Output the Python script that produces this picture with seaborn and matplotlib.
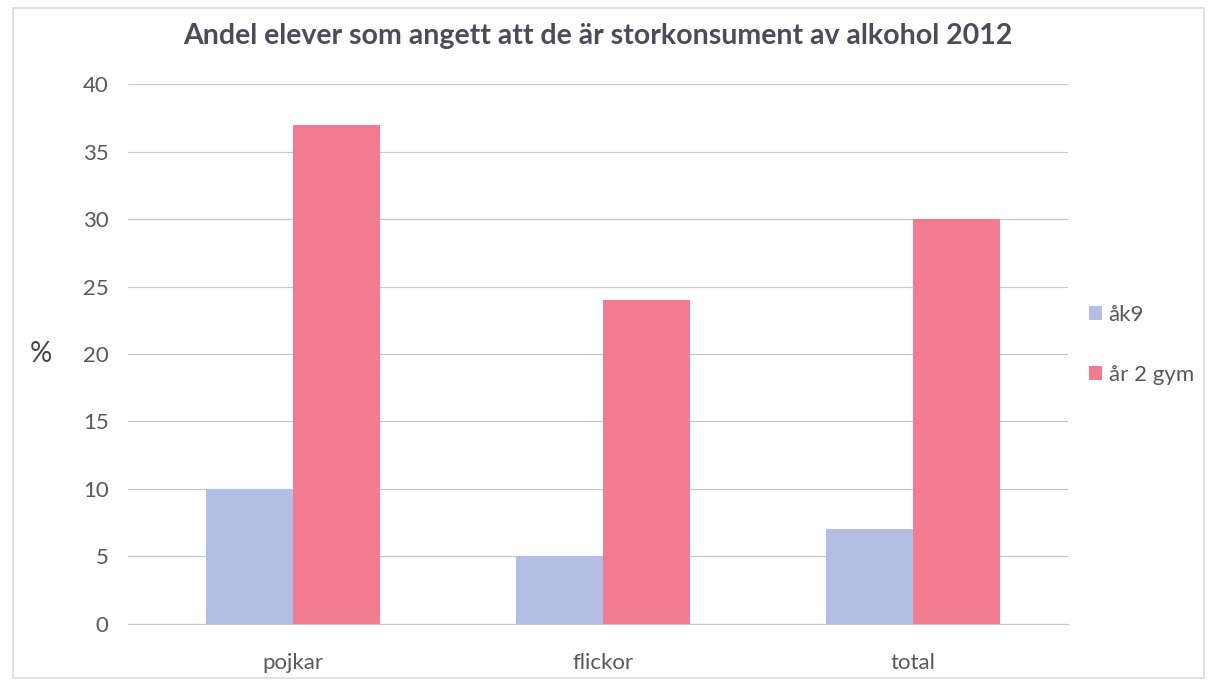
import pandas as pd
import matplotlib.pyplot as plt
import seaborn as sns

# data
kategorier = ["pojkar", "flickor", "total"]
ak9 = [10, 5, 7]
ar2gym = [37, 24, 30]
serier = ["åk9", "år 2 gym"]

df = pd.DataFrame({
    "grupp": kategorier * 2,
    "serie": [serier[0]] * 3 + [serier[1]] * 3,
    "andel": ak9 + ar2gym,
})

sns.set_style("white")
plt.rcParams["font.family"] = ["Lato", "DejaVu Sans"]

fig = plt.figure(figsize=(12.08, 6.8), dpi=100)
ax = fig.add_axes([0.106, 0.0824, 0.778, 0.794])

sns.barplot(data=df, x="grupp", y="andel", hue="serie",
            palette=["#b4bee4", "#f07b92"], width=0.56, ax=ax,
            saturation=1, edgecolor="none")

ax.set_xlim(-0.532, 2.5)
ax.set_ylim(0, 40)
ax.set_yticks(range(0, 41, 5))
ax.yaxis.grid(True, color="#c8c8c8", linewidth=0.9)
ax.set_axisbelow(True)
for s in ["top", "right", "left"]:
    ax.spines[s].set_visible(False)
ax.spines["bottom"].set_color("#c8c8c8")
ax.tick_params(axis="y", length=0, labelsize=16, colors="#595959", pad=14)
ax.tick_params(axis="x", length=0, labelsize=16, colors="#595959", pad=21)
ax.set_xlabel("")
ax.set_ylabel("%", rotation=0, fontsize=20, color="#444444", labelpad=30, va="center")
ax.set_title("Andel elever som angett att de är storkonsument av alkohol 2012",
             fontsize=20.5, fontweight="bold", color="#4d4b5a", pad=29)

ax.legend(loc="center left", bbox_to_anchor=(1.022, 0.517), frameon=False,
          fontsize=16, handlelength=0.6, handleheight=0.6, labelspacing=1.8,
          handletextpad=0.3, borderpad=0, borderaxespad=0, labelcolor="#595959")

# light frame around the picture
fig.patches.append(plt.Rectangle((0.011, 0.003), 0.986, 0.985, transform=fig.transFigure,
                                 fill=False, edgecolor="#dcdcdc", linewidth=1.2))

fig.savefig("out.png", dpi=100)
